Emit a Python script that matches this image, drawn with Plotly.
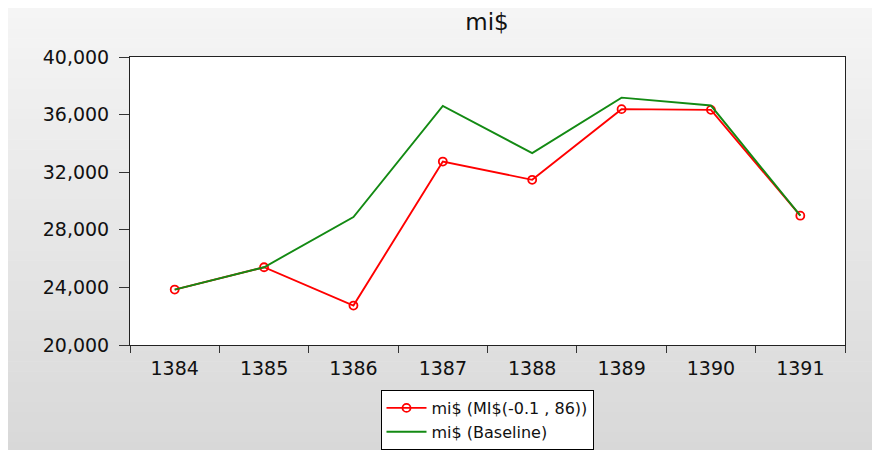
import plotly.graph_objects as go

years = ["1384", "1385", "1386", "1387", "1388", "1389", "1390", "1391"]
scenario = [23850, 25400, 22740, 32740, 31470, 36380, 36330, 28980]
baseline = [23850, 25400, 28890, 36600, 33330, 37180, 36630, 28980]
y_ticks = [20000, 24000, 28000, 32000, 36000, 40000]
title_text = "mi$"
name_scenario = "mi$ (MI$(-0.1 , 86))"
name_baseline = "mi$ (Baseline)"

FONT = "DejaVu Sans"
W, H = 872, 450
L, R, T, B = 130, 27, 57, 105
pw, ph = W - L - R, H - T - B


def wx(px):  # window pixel x -> paper x
    return (px - L) / pw


def wy(py):  # window pixel y -> paper y
    return (H - B - py) / ph


fig = go.Figure()
fig.add_trace(go.Scatter(
    x=years, y=scenario, name=name_scenario, mode="lines+markers",
    line=dict(color="#ff0000", width=1.9),
    marker=dict(symbol="circle-open", size=8, color="#ff0000",
                line=dict(width=1.8, color="#ff0000")),
))
fig.add_trace(go.Scatter(
    x=years, y=baseline, name=name_baseline, mode="lines",
    line=dict(color="#138a13", width=1.9),
))

# gradient background bands (white 8px border at top and left)
shapes = []
n = 44
top_px, bot_px = 8, 452
c_top, c_bot = 0xf5, 0xd8
for i in range(n):
    y0 = top_px + (bot_px - top_px) * i / n
    y1 = top_px + (bot_px - top_px) * (i + 1) / n + 0.6
    c = int(round(c_top + (c_bot - c_top) * (i + 0.5) / n))
    col = f"rgb({c},{c},{c})"
    shapes.append(dict(type="rect", xref="paper", yref="paper", layer="below",
                       x0=wx(8), x1=wx(900), y0=wy(min(y1, 470)), y1=wy(y0),
                       fillcolor=col, line=dict(width=0)))
shapes.append(dict(type="rect", xref="paper", yref="paper", layer="below",
                   x0=0, x1=1, y0=0, y1=1, fillcolor="white", line=dict(width=0)))

fig.update_layout(
    width=W, height=H,
    margin=dict(l=L, r=R, t=T, b=B, pad=0, autoexpand=False),
    paper_bgcolor="white", plot_bgcolor="white",
    shapes=shapes,
    font=dict(family=FONT, size=19, color="#111111"),
    title=dict(text=title_text, x=wx(487), xref="paper", xanchor="center",
               y=1 - 22 / H, yref="container", yanchor="middle",
               font=dict(family=FONT, size=23, color="#111111")),
    showlegend=True,
    legend=dict(x=wx(487), xref="paper", xanchor="center",
                y=wy(390), yref="paper", yanchor="top",
                bgcolor="white", bordercolor="black", borderwidth=1,
                font=dict(family=FONT, size=16, color="#111111"),
                tracegroupgap=0, itemwidth=40),
    xaxis=dict(type="category", range=[-0.5, 7.5], tickson="boundaries",
               ticks="outside", ticklen=7, tickcolor="#333", showline=True,
               linecolor="#222", linewidth=1, mirror=True, showgrid=False,
               zeroline=False, ticklabelstandoff=6,
               tickfont=dict(family=FONT, size=19, color="#111111")),
    yaxis=dict(range=[20000, 40000], tickvals=y_ticks, tickformat=",",
               ticks="outside", ticklen=10, tickcolor="#333", showline=True,
               linecolor="#222", linewidth=1, mirror=True, showgrid=False,
               zeroline=False, ticklabelstandoff=6,
               tickfont=dict(family=FONT, size=19, color="#111111")),
)

fig.write_html("out.html", config={"displayModeBar": False},
               post_script="document.body.style.margin='0';document.body.style.overflow='hidden';")
